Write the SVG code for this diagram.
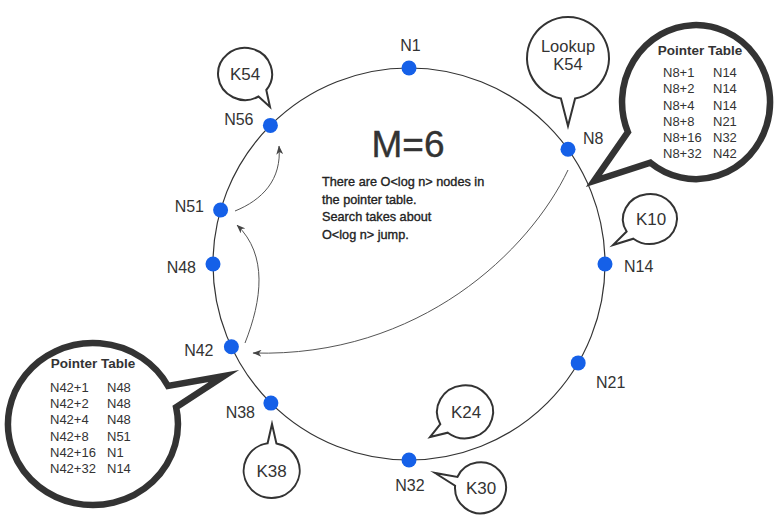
<svg xmlns="http://www.w3.org/2000/svg" width="779" height="515" viewBox="0 0 779 515">
  <defs>
    <marker id="head" viewBox="0 0 9 7" markerWidth="9" markerHeight="7" refX="8.5" refY="3.5" orient="auto" markerUnits="userSpaceOnUse">
      <path d="M0,0 L9,3.5 L0,7 L2.6,3.5 Z" fill="#444"/>
    </marker>
  </defs>
  <style>
    text { font-family: "Liberation Sans", Arial, Helvetica, sans-serif; fill: #333; }
    .ring { fill: none; stroke: #333; stroke-width: 1.2; }
    .dot { fill: #1560e8; }
    .lbl { font-size: 16px; }
    .big { fill: #fff; stroke: #333; stroke-width: 6.5; stroke-linejoin: miter; stroke-miterlimit: 20; }
    .small { fill: #fff; stroke: #333; stroke-width: 2; stroke-linejoin: miter; stroke-miterlimit: 20; }
    .key { font-size: 17px; text-anchor: middle; }
    .th { font-size: 13.5px; font-weight: bold; text-anchor: middle; }
    .row { font-size: 13px; }
    .note { font-size: 12.7px; fill: #222; stroke: #222; stroke-width: 0.35; }
    .title { font-size: 37px; text-anchor: middle; fill: #333; stroke: #333; stroke-width: 0.4; }
    .link { fill: none; stroke: #555; stroke-width: 1; marker-end: url(#head); }
  </style>

  <rect width="779" height="515" fill="#fff"/>

  <!-- identifier ring -->
  <circle class="ring" cx="409" cy="264" r="196"/>

  <!-- finger-table hops -->
  <g id="connectors">
    <path class="link" d="M568,170 C530,250 420,358 253,353"/>
    <path class="link" d="M245,343 C262,300 268,255 237,225"/>
    <path class="link" d="M235,211 C262,200 282,180 279,146"/>
  </g>

  <!-- ring nodes -->
  <g id="n1"><circle class="dot" cx="409" cy="68" r="7.5"/><text class="lbl" x="410.5" y="51" text-anchor="middle">N1</text></g>
  <g id="n8"><circle class="dot" cx="568" cy="149.3" r="7.5"/><text class="lbl" x="583" y="144">N8</text></g>
  <g id="n14"><circle class="dot" cx="605" cy="264" r="7.5"/><text class="lbl" x="624" y="272">N14</text></g>
  <g id="n21"><circle class="dot" cx="578.2" cy="362.9" r="7.5"/><text class="lbl" x="596" y="388">N21</text></g>
  <g id="n32"><circle class="dot" cx="409" cy="460" r="7.5"/><text class="lbl" x="410" y="491" text-anchor="middle">N32</text></g>
  <g id="n38"><circle class="dot" cx="270.9" cy="403.1" r="7.5"/><text class="lbl" x="255" y="418" text-anchor="end">N38</text></g>
  <g id="n42"><circle class="dot" cx="231.4" cy="346.8" r="7.5"/><text class="lbl" x="213.5" y="356" text-anchor="end">N42</text></g>
  <g id="n48"><circle class="dot" cx="213" cy="264" r="7.5"/><text class="lbl" x="196" y="273" text-anchor="end">N48</text></g>
  <g id="n51"><circle class="dot" cx="220.6" cy="210" r="7.5"/><text class="lbl" x="204" y="212" text-anchor="end">N51</text></g>
  <g id="n56"><circle class="dot" cx="270.4" cy="125.4" r="7.5"/><text class="lbl" x="253.5" y="125" text-anchor="end">N56</text></g>

  <!-- centre caption -->
  <g id="caption">
    <text class="title" x="408" y="157">M=6</text>
    <text class="note" x="322" y="186">There are O&lt;log n&gt; nodes in</text>
    <text class="note" x="322" y="204">the pointer table.</text>
    <text class="note" x="322" y="221">Search takes about</text>
    <text class="note" x="322" y="238.5">O&lt;log n&gt; jump.</text>
  </g>

  <!-- key callouts -->
  <g id="k54">
    <path class="small" d="M258.5,96.5 A27 26 0 1 1 266.3,90 L270,107 Z"/>
    <text class="key" x="245" y="80">K54</text>
  </g>
  <g id="lookup">
    <path class="small" d="M560.9,98.4 A41 41 0 1 1 575.1,98.4 L568,126 Z"/>
    <text class="key" x="568" y="52" style="font-size:16.5px">Lookup</text>
    <text class="key" x="568" y="70" style="font-size:16.5px">K54</text>
  </g>
  <g id="k10">
    <path class="small" d="M626.6,231.5 A27 25 0 1 1 633.4,238.7 L613,245 Z"/>
    <text class="key" x="651" y="225">K10</text>
  </g>
  <g id="k24">
    <path class="small" d="M440.3,424.2 A28 26.5 0 1 1 447.8,432.7 L430,437 Z"/>
    <text class="key" x="466" y="418">K24</text>
  </g>
  <g id="k30">
    <path class="small" d="M457.4,477 A25.5 25.5 0 1 1 455.1,485.7 L435,473 Z"/>
    <text class="key" x="481" y="494">K30</text>
  </g>
  <g id="k38">
    <path class="small" d="M276.4,443.4 A28 27.5 0 1 1 267.6,443.3 L272,424 Z"/>
    <text class="key" x="271.5" y="477">K38</text>
  </g>

  <!-- pointer table of N8 -->
  <g id="table-n8">
    <path class="big" d="M627.9,132.1 A74 77 0 1 1 650.4,162.7 L594,181 Z"/>
    <text class="th" x="700" y="55">Pointer Table</text>
    <g class="row">
      <text x="663" y="77">N8+1</text><text x="713" y="77">N14</text>
      <text x="663" y="93">N8+2</text><text x="713" y="93">N14</text>
      <text x="663" y="110">N8+4</text><text x="713" y="110">N14</text>
      <text x="663" y="126">N8+8</text><text x="713" y="126">N21</text>
      <text x="663" y="142">N8+16</text><text x="713" y="142">N32</text>
      <text x="663" y="158">N8+32</text><text x="713" y="158">N42</text>
    </g>
  </g>

  <!-- pointer table of N42 -->
  <g id="table-n42">
    <path class="big" d="M176.1,407.2 A85 81 0 1 1 168,386 L224,376 Z"/>
    <text class="th" x="93" y="368">Pointer Table</text>
    <g class="row">
      <text x="50" y="392">N42+1</text><text x="107" y="392">N48</text>
      <text x="50" y="408">N42+2</text><text x="107" y="408">N48</text>
      <text x="50" y="424">N42+4</text><text x="107" y="424">N48</text>
      <text x="50" y="441">N42+8</text><text x="107" y="441">N51</text>
      <text x="50" y="457">N42+16</text><text x="107" y="457">N1</text>
      <text x="50" y="473">N42+32</text><text x="107" y="473">N14</text>
    </g>
  </g>
</svg>
